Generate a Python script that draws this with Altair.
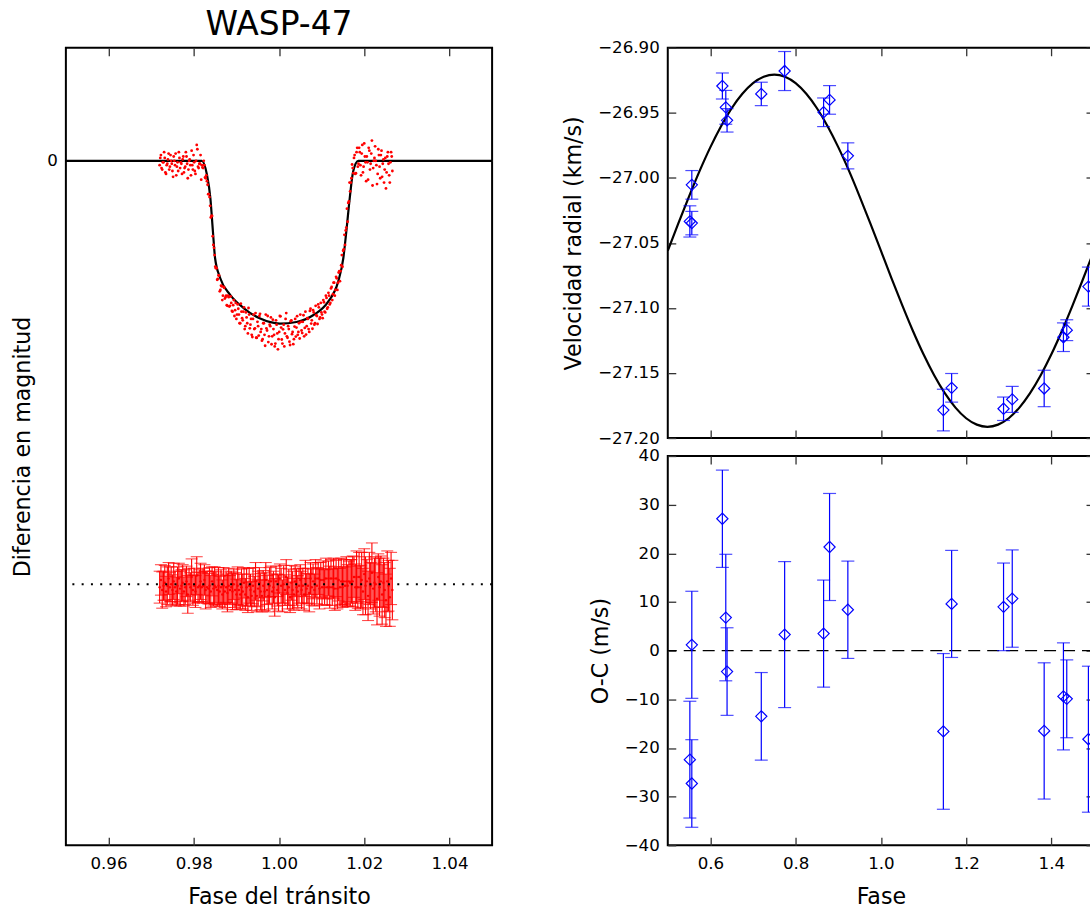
import altair as alt
import pandas as pd

FONT = "DejaVu Sans"
RED = "#ff0000"
BLUE = "#0000ff"
TICK = 8

# ---------------- transit light curve (left panel) ----------------
lc_phase = [
    0.9720, 0.9723, 0.9726, 0.9729, 0.9732, 0.9735, 0.9738, 0.9741, 0.9744, 0.9747,
    0.9750, 0.9753, 0.9756, 0.9759, 0.9762, 0.9765, 0.9768, 0.9771, 0.9774, 0.9777,
    0.9780, 0.9783, 0.9786, 0.9789, 0.9792, 0.9795, 0.9798, 0.9801, 0.9804, 0.9807,
    0.9810, 0.9813, 0.9816, 0.9819, 0.9822, 0.9825, 0.9828, 0.9831, 0.9834, 0.9837,
    0.9840, 0.9843, 0.9846, 0.9849, 0.9852, 0.9855, 0.9858, 0.9861, 0.9864, 0.9867,
    0.9870, 0.9873, 0.9876, 0.9879, 0.9882, 0.9885, 0.9888, 0.9891, 0.9894, 0.9897,
    0.9900, 0.9903, 0.9906, 0.9909, 0.9912, 0.9915, 0.9918, 0.9921, 0.9924, 0.9927,
    0.9930, 0.9933, 0.9936, 0.9939, 0.9942, 0.9945, 0.9948, 0.9951, 0.9954, 0.9957,
    0.9960, 0.9963, 0.9966, 0.9969, 0.9972, 0.9975, 0.9978, 0.9981, 0.9984, 0.9987,
    0.9990, 0.9993, 0.9996, 0.9999, 1.0002, 1.0005, 1.0008, 1.0011, 1.0014, 1.0017,
    1.0020, 1.0023, 1.0026, 1.0029, 1.0032, 1.0035, 1.0038, 1.0041, 1.0044, 1.0047,
    1.0050, 1.0053, 1.0056, 1.0059, 1.0062, 1.0065, 1.0068, 1.0071, 1.0074, 1.0077,
    1.0080, 1.0083, 1.0086, 1.0089, 1.0092, 1.0095, 1.0098, 1.0101, 1.0104, 1.0107,
    1.0110, 1.0113, 1.0116, 1.0119, 1.0122, 1.0125, 1.0128, 1.0131, 1.0134, 1.0137,
    1.0140, 1.0143, 1.0146, 1.0149, 1.0152, 1.0155, 1.0158, 1.0161, 1.0164, 1.0167,
    1.0170, 1.0173, 1.0176, 1.0179, 1.0182, 1.0185, 1.0188, 1.0191, 1.0194, 1.0197,
    1.0200, 1.0203, 1.0206, 1.0209, 1.0212, 1.0215, 1.0218, 1.0221, 1.0224, 1.0227,
    1.0230, 1.0233, 1.0236, 1.0239, 1.0242, 1.0245, 1.0248, 1.0251, 1.0254, 1.0257,
    1.0260, 1.0263, 1.0266,
]
# magnitude difference (mmag, positive = fainter)
lc_mag = [
    0.3, -0.4, 0.6, 0.1, -0.2, 0.9, 0.2, -0.5, 0.4, 0.0,
    0.7, -0.3, 0.3, 1.0, 0.1, -0.6, 0.5, 0.2, -0.1, 0.8,
    0.4, -0.3, 1.2, 0.0, 0.3, -0.7, 0.6, 0.1, 0.9, -1.1,
    0.4, 0.2, -0.4, 0.3, 0.5, 0.3, 1.2, 1.4, 2.3, 2.5,
    3.9, 3.8, 5.8, 6.5, 7.4, 8.2, 7.9, 9.0, 8.6, 9.6,
    8.7, 9.5, 9.3, 10.0, 9.4, 10.0, 9.8, 10.4, 9.6, 10.3,
    10.9, 9.9, 10.6, 11.2, 10.4, 11.0, 10.1, 11.4, 10.8, 11.9,
    10.6, 11.3, 12.0, 10.9, 11.6, 10.5, 12.2, 11.4, 10.7, 11.8,
    12.4, 11.2, 12.0, 10.6, 11.7, 12.5, 11.3, 10.8, 12.1, 11.6,
    12.8, 11.0, 11.9, 12.3, 10.7, 11.5, 12.6, 11.3, 11.9, 10.5,
    12.2, 11.6, 12.7, 11.0, 11.8, 12.3, 10.9, 11.5, 12.0, 11.2,
    10.6, 11.7, 11.1, 12.1, 10.4, 11.4, 10.9, 11.8, 10.2, 11.0,
    10.3, 11.3, 10.0, 10.7, 9.9, 10.9, 9.8, 10.6, 9.6, 10.4,
    9.3, 10.2, 9.1, 9.9, 8.8, 9.6, 8.4, 9.3, 8.0, 8.9,
    7.7, 8.3, 7.2, 7.3, 6.1, 5.8, 4.6, 4.2, 2.8, 2.1,
    1.2, 0.5, -0.2, 0.9, -0.6, 0.4, -0.9, 0.3, -0.5, 0.8,
    -1.2, 0.1, -0.3, 1.3, -0.7, 0.2, -1.4, 0.5, -0.2, 0.0,
    1.6, -0.8, 0.4, -0.4, 1.1, -0.1, 0.6, 1.9, -0.3, 0.2,
    1.5, -0.6, 0.7,
]
# second, interleaved set of photometric points
lc_phase2 = [
    0.97215, 0.97245, 0.97275, 0.97305, 0.97335, 0.97365, 0.97395, 0.97425, 0.97455, 0.97485,
    0.97515, 0.97545, 0.97575, 0.97605, 0.97635, 0.97665, 0.97695, 0.97725, 0.97755, 0.97785,
    0.97815, 0.97845, 0.97875, 0.97905, 0.97935, 0.97965, 0.97995, 0.98025, 0.98055, 0.98085,
    0.98115, 0.98145, 0.98175, 0.98205, 0.98235, 0.98265, 0.98295, 0.98325, 0.98355, 0.98385,
    0.98415, 0.98445, 0.98475, 0.98505, 0.98535, 0.98565, 0.98595, 0.98625, 0.98655, 0.98685,
    0.98715, 0.98745, 0.98775, 0.98805, 0.98835, 0.98865, 0.98895, 0.98925, 0.98955, 0.98985,
    0.99015, 0.99045, 0.99075, 0.99105, 0.99135, 0.99165, 0.99195, 0.99225, 0.99255, 0.99285,
    0.99315, 0.99345, 0.99375, 0.99405, 0.99435, 0.99465, 0.99495, 0.99525, 0.99555, 0.99585,
    0.99615, 0.99645, 0.99675, 0.99705, 0.99735, 0.99765, 0.99795, 0.99825, 0.99855, 0.99885,
    0.99915, 0.99945, 0.99975, 1.00005, 1.00035, 1.00065, 1.00095, 1.00125, 1.00155, 1.00185,
    1.00215, 1.00245, 1.00275, 1.00305, 1.00335, 1.00365, 1.00395, 1.00425, 1.00455, 1.00485,
    1.00515, 1.00545, 1.00575, 1.00605, 1.00635, 1.00665, 1.00695, 1.00725, 1.00755, 1.00785,
    1.00815, 1.00845, 1.00875, 1.00905, 1.00935, 1.00965, 1.00995, 1.01025, 1.01055, 1.01085,
    1.01115, 1.01145, 1.01175, 1.01205, 1.01235, 1.01265, 1.01295, 1.01325, 1.01355, 1.01385,
    1.01415, 1.01445, 1.01475, 1.01505, 1.01535, 1.01565, 1.01595, 1.01625, 1.01655, 1.01685,
    1.01715, 1.01745, 1.01775, 1.01805, 1.01835, 1.01865, 1.01895, 1.01925, 1.01955, 1.01985,
    1.02015, 1.02045, 1.02075, 1.02105, 1.02135, 1.02165, 1.02195, 1.02225, 1.02255, 1.02285,
    1.02315, 1.02345, 1.02375, 1.02405, 1.02435, 1.02465, 1.02495, 1.02525, 1.02555, 1.02585,
    1.02615, 1.02645,
]
lc_mag2 = [
    -0.2, 0.5, 0.1, -0.6, 0.8, 0.3, -0.1, 0.6, -0.4, 0.2,
    1.1, 0.0, -0.5, 0.4, 0.7, -0.2, 0.1, 0.9, -0.3, 0.5,
    -0.6, 0.2, 0.6, -0.1, 1.0, 0.3, -0.4, 0.7, 0.0, -0.8,
    0.5, 0.2, 1.3, 0.45, 0.0, 1.15, 1.0, 1.65, 2.3, 3.1,
    3.8, 5.2, 6.0, 7.3, 7.4, 8.15, 7.9, 8.9, 8.65, 9.3,
    8.75, 9.4, 9.95, 9.3, 10.05, 9.35, 10.35, 9.95, 10.7, 9.8,
    10.6, 10.2, 11.2, 9.85, 10.85, 10.4, 11.6, 10.45, 11.2, 10.15,
    11.55, 10.9, 12.15, 10.6, 11.55, 12.2, 11.1, 12.05, 10.55, 11.6,
    12.3, 11.2, 12.75, 11.55, 10.7, 12.1, 11.4, 12.65, 10.95, 12.0,
    12.6, 11.3, 13.0, 11.8, 10.72, 12.32, 11.62, 12.8, 10.9, 12.1,
    11.4, 12.47, 11.06, 11.95, 12.64, 11.43, 12.12, 10.71, 11.8, 12.25,
    11.1, 11.88, 10.65, 11.52, 11.98, 10.85, 11.6, 10.35, 11.22, 11.58,
    10.45, 11.2, 10.65, 11.25, 10.1, 10.8, 10.45, 10.85, 9.75, 10.45,
    9.45, 10.1, 9.3, 9.8, 8.7, 9.2, 8.4, 8.9, 8.1, 8.4,
    7.6, 7.6, 6.5, 6.2, 5.1, 4.8, 3.3, 2.9, 1.5, 1.5,
    0.25, 0.85, -0.4, 0.85, -0.9, 0.2, -0.6, 1.0, -1.1, 0.4,
    -0.3, 1.4, 0.1, -0.9, 0.6, -0.5, 1.7, 0.0, -1.0, 0.3,
    0.9, -0.4, 1.2, -0.7, 0.2, 1.5, -0.2, 0.8, -0.6, 1.0,
    0.1, -0.3,
]
# residuals (mmag) and their errors
lc_resid = [
    0.2, -0.3, 0.4, 0.1, -0.1, 0.5, 0.1, -0.4, 0.2, 0.0,
    0.4, -0.2, 0.2, 0.5, 0.1, -0.4, 0.3, 0.1, -0.1, 0.5,
    0.2, -0.2, 0.7, 0.0, 0.2, -0.5, 0.4, 0.1, 0.5, -0.6,
    0.2, 0.1, -0.2, 0.2, 0.1, -0.3, 0.4, 0.2, 0.3, 0.1,
    0.5, -0.2, 0.3, 0.1, 0.2, 0.4, 0.1, 0.5, 0.2, 0.7,
    0.1, 0.5, 0.2, 0.6, 0.1, 0.4, 0.2, 0.5, 0.0, 0.4,
    0.7, 0.1, 0.4, 0.7, 0.2, 0.5, -0.1, 0.7, 0.2, 0.9,
    0.1, 0.4, 0.8, 0.1, 0.5, -0.2, 0.8, 0.3, -0.1, 0.5,
    0.8, 0.1, 0.5, -0.3, 0.4, 0.8, 0.1, -0.2, 0.5, 0.2,
    0.9, -0.2, 0.4, 0.6, -0.4, 0.1, 0.8, 0.0, 0.4, -0.5,
    0.6, 0.2, 0.9, -0.1, 0.4, 0.7, -0.2, 0.2, 0.5, 0.1,
    -0.3, 0.4, 0.1, 0.7, -0.4, 0.3, 0.1, 0.6, -0.4, 0.2,
    -0.2, 0.4, -0.4, 0.1, -0.4, 0.3, -0.3, 0.2, -0.3, 0.2,
    -0.4, 0.2, -0.4, 0.2, -0.4, 0.2, -0.4, 0.3, -0.4, 0.3,
    -0.3, 0.2, -0.2, 0.2, -0.2, 0.1, -0.2, 0.1, -0.2, -0.1,
    -0.2, -0.2, -0.5, 0.2, -0.5, 0.2, -0.5, 0.2, -0.3, 0.5,
    -0.7, 0.1, -0.2, 0.8, -0.4, 0.1, -0.8, 0.3, -0.1, 0.0,
    1.0, -0.5, 0.2, -0.2, 0.7, -0.1, 0.4, 1.1, -0.2, 0.1,
    0.9, -0.4, 0.4,
]
lc_err = [
    1.1, 1.05, 1.25, 1.0, 1.2, 1.05, 1.3, 1.1, 1.0, 1.2,
    1.05, 1.25, 1.1, 1.0, 1.3, 1.05, 1.2, 1.1, 1.25, 1.0,
    1.2, 1.05, 1.3, 1.1, 1.0, 1.25, 1.05, 1.2, 1.1, 1.3,
    1.05, 1.1, 1.25, 1.0, 1.2, 1.05, 1.3, 1.1, 1.05, 1.25,
    1.1, 1.0, 1.2, 1.3, 1.05, 1.1, 1.25, 1.05, 1.2, 1.0,
    1.25, 1.1, 1.05, 1.3, 1.2, 1.0, 1.1, 1.25, 1.05, 1.2,
    1.05, 1.3, 1.1, 1.0, 1.25, 1.2, 1.05, 1.1, 1.3, 1.05,
    1.2, 1.1, 1.0, 1.25, 1.05, 1.3, 1.1, 1.2, 1.05, 1.25,
    1.1, 1.05, 1.3, 1.2, 1.0, 1.1, 1.25, 1.05, 1.2, 1.1,
    1.3, 1.05, 1.1, 1.25, 1.0, 1.2, 1.1, 1.3, 1.05, 1.2,
    1.1, 1.25, 1.05, 1.2, 1.3, 1.1, 1.05, 1.25, 1.1, 1.2,
    1.05, 1.3, 1.2, 1.1, 1.25, 1.05, 1.2, 1.3, 1.1, 1.25,
    1.2, 1.1, 1.3, 1.25, 1.1, 1.4, 1.2, 1.25, 1.3, 1.2,
    1.4, 1.25, 1.2, 1.45, 1.3, 1.25, 1.4, 1.5, 1.25, 1.4,
    1.45, 1.3, 1.6, 1.4, 1.5, 1.3, 1.7, 1.45, 1.4, 1.6,
    1.5, 1.75, 1.4, 1.6, 1.8, 1.45, 1.7, 1.5, 1.9, 1.6,
    1.75, 2.0, 1.5, 1.7, 1.8, 1.6, 2.05, 1.75, 1.7, 1.9,
    1.8, 1.6, 2.0, 1.75, 2.05, 1.7, 1.9, 1.8, 2.1, 1.75,
    2.0, 1.8, 2.05,
]
RESID_OFFSET = 29.2  # mmag shift of the residual series

model_phase = [0.950, 0.9819, 0.9831, 0.9839, 0.9845, 0.9850, 0.9862, 0.9885, 0.9917,
               0.9956, 1.0002, 1.0041, 1.0080, 1.0115, 1.0139, 1.0151, 1.0158, 1.0166,
               1.0174, 1.0186, 1.050]
model_mag = [0.0, 0.0, 0.96, 2.57, 4.87, 6.70, 8.08, 9.22, 10.15,
             10.88, 11.22, 11.11, 10.65, 9.73, 8.31, 6.70, 4.87, 2.57,
             0.74, 0.0, 0.0]

lc_xticks = [0.96, 0.98, 1.00, 1.02, 1.04]
lc_yticks = [0]

# ---------------- radial velocities (right panels) ----------------
rv_phase = [0.5518, 0.5564, 0.5564, 0.6281, 0.6361, 0.6391, 0.7194, 0.7742, 0.8656, 0.8796,
            0.9225, 1.1466, 1.1660, 1.2878, 1.3082, 1.3831, 1.4283, 1.4361, 1.4869]
rv_kms = [-27.0335, -27.0348, -27.0054, -26.9294, -26.9458, -26.9558, -26.9355, -26.9179,
          -26.9496, -26.9401, -26.9831, -27.1785, -27.1614, -27.1775, -27.1703, -27.1619,
          -27.1225, -27.1171, -27.0836]
oc_ms = [-22.4, -27.3, 1.2, 27.1, 6.8, -4.3, -13.5, 3.3, 3.5, 21.3,
         8.4, -16.6, 9.6, 9.0, 10.7, -16.5, -9.4, -9.9, -18.2]
err_ms = [12, 9, 11, 10, 13, 9, 9, 15, 11, 11, 10, 16, 11, 9, 10, 14, 11, 8, 15]

rvm_phase = [0.500, 0.525, 0.550, 0.575, 0.600, 0.625, 0.650, 0.675, 0.700, 0.725,
             0.750, 0.775, 0.800, 0.825, 0.850, 0.875, 0.900, 0.925, 0.950, 0.975,
             1.000, 1.025, 1.050, 1.075, 1.100, 1.125, 1.150, 1.175, 1.200, 1.225,
             1.250, 1.275, 1.300, 1.325, 1.350, 1.375, 1.400, 1.425, 1.450, 1.475, 1.500]
rvm_kms = [-27.0560, -27.0348, -27.0142, -26.9945, -26.9764, -26.9603, -26.9465, -26.9354,
           -26.9272, -26.9223, -26.9206, -26.9223, -26.9272, -26.9354, -26.9465, -26.9603,
           -26.9764, -26.9945, -27.0142, -27.0348, -27.0560, -27.0772, -27.0978, -27.1175,
           -27.1356, -27.1517, -27.1655, -27.1766, -27.1848, -27.1897, -27.1914, -27.1897,
           -27.1848, -27.1766, -27.1655, -27.1517, -27.1356, -27.1175, -27.0978, -27.0772,
           -27.0560]

rv_xticks = [0.6, 0.8, 1.0, 1.2, 1.4]
rv_yticks = [-27.20, -27.15, -27.10, -27.05, -27.00, -26.95, -26.90]
oc_yticks = [-40, -30, -20, -10, 0, 10, 20, 30, 40]


def ax(orient, values, title=None, labels=True, fmt=None, label_pad=10, title_pad=12):
    kw = dict(orient=orient, values=values, title=title, labels=labels,
              tickSize=TICK, offset=-TICK, domain=False, grid=False,
              labelFlush=False, labelOverlap=False,
              tickColor="#333333", tickWidth=1.3,
              labelPadding=label_pad, titlePadding=title_pad,
              labelFont=FONT, labelFontSize=16.7, labelColor="black",
              titleFont=FONT, titleFontSize=22.2, titleFontWeight="normal",
              titleColor="black")
    if fmt:
        kw["format"] = fmt
    return alt.Axis(**kw)


# ---------------- left panel ----------------
lc_df = pd.DataFrame({"phase": lc_phase, "mag": lc_mag, "res": lc_resid, "err": lc_err})
pts_df = pd.DataFrame({"phase": lc_phase + lc_phase2, "mag": lc_mag + lc_mag2})
model_df = pd.DataFrame({"phase": model_phase, "mag": model_mag})
off_df = pd.DataFrame({"y": [RESID_OFFSET]})

lx = alt.Scale(domain=[0.95, 1.05], nice=False, zero=False)
ly = alt.Scale(domain=[-7.8, 47.2], reverse=True, nice=False, zero=False)

res_base = alt.Chart(lc_df).transform_calculate(
    yc=f"datum.res + {RESID_OFFSET}",
    lo=f"datum.res + {RESID_OFFSET} - datum.err",
    hi=f"datum.res + {RESID_OFFSET} + datum.err",
)
x_lc_none = alt.X("phase:Q", scale=lx, axis=None)

res_bars = res_base.mark_rule(color=RED, strokeWidth=1.1).encode(
    x=alt.X("phase:Q", scale=lx, axis=ax("top", lc_xticks, labels=False)),
    y=alt.Y("lo:Q", scale=ly, axis=ax("right", lc_yticks, labels=False)),
    y2="hi:Q",
)
res_cap_lo = res_base.mark_tick(color=RED, orient="horizontal", size=12, thickness=1.1).encode(
    x=x_lc_none, y=alt.Y("lo:Q", scale=ly, axis=None))
res_cap_hi = res_base.mark_tick(color=RED, orient="horizontal", size=12, thickness=1.1).encode(
    x=x_lc_none, y=alt.Y("hi:Q", scale=ly, axis=None))
res_dots = res_base.mark_circle(color=RED, size=6, opacity=1).encode(
    x=x_lc_none, y=alt.Y("yc:Q", scale=ly, axis=None))
dotted = alt.Chart(off_df).mark_rule(color="black", strokeWidth=2, strokeDash=[2, 7.3]).encode(
    y=alt.Y("y:Q", scale=ly, axis=None))
model_line = alt.Chart(model_df).mark_line(color="black", strokeWidth=2.2, interpolate="monotone",
                                           clip=True).encode(
    x=alt.X("phase:Q", scale=lx, axis=ax("bottom", lc_xticks, "Fase del tránsito", fmt=".2f",
                                          title_pad=14)),
    y=alt.Y("mag:Q", scale=ly, axis=ax("left", lc_yticks, "Diferencia en magnitud", label_pad=8.5)),
)
lc_pts = alt.Chart(pts_df).mark_circle(color=RED, size=8, opacity=1).encode(
    x=x_lc_none, y=alt.Y("mag:Q", scale=ly, axis=None))

left = alt.layer(res_bars, res_cap_lo, res_cap_hi, res_dots, dotted, model_line, lc_pts).resolve_axis(
    x="independent", y="independent"
).properties(
    width=427, height=799,
    title=alt.Title("WASP-47", font=FONT, fontSize=33, fontWeight="normal", color="black",
                    anchor="middle", frame="group", offset=5.5),
)

# ---------------- right top: RV ----------------
rv_df = pd.DataFrame({"phase": rv_phase, "rv": rv_kms, "oc": oc_ms, "err": err_ms})
rvm_df = pd.DataFrame({"phase": rvm_phase, "rv": rvm_kms})

rx = alt.Scale(domain=[0.5, 1.5], nice=False, zero=False)
ry = alt.Scale(domain=[-27.2, -26.9], nice=False, zero=False)
x_r_none = alt.X("phase:Q", scale=rx, axis=None)

rv_base = alt.Chart(rv_df).transform_calculate(
    lo="datum.rv - datum.err / 1000", hi="datum.rv + datum.err / 1000")

rv_line = alt.Chart(rvm_df).mark_line(color="black", strokeWidth=2.2, interpolate="monotone",
                                      clip=True).encode(
    x=alt.X("phase:Q", scale=rx, axis=ax("bottom", rv_xticks, labels=False)),
    y=alt.Y("rv:Q", scale=ry, axis=ax("left", rv_yticks, "Velocidad radial (km/s)", fmt=".2f",
                                      label_pad=8.5)),
)
rv_bars = rv_base.mark_rule(color=BLUE, strokeWidth=1.2).encode(
    x=alt.X("phase:Q", scale=rx, axis=ax("top", rv_xticks, labels=False)),
    y=alt.Y("lo:Q", scale=ry, axis=ax("right", rv_yticks, labels=False)),
    y2="hi:Q",
)
rv_cap_lo = rv_base.mark_tick(color=BLUE, orient="horizontal", size=13, thickness=1.2).encode(
    x=x_r_none, y=alt.Y("lo:Q", scale=ry, axis=None))
rv_cap_hi = rv_base.mark_tick(color=BLUE, orient="horizontal", size=13, thickness=1.2).encode(
    x=x_r_none, y=alt.Y("hi:Q", scale=ry, axis=None))
rv_pts = rv_base.mark_point(shape="diamond", size=125, filled=False, color=BLUE, strokeWidth=1.2,
                            opacity=1).encode(x=x_r_none, y=alt.Y("rv:Q", scale=ry, axis=None))

rv_chart = alt.layer(rv_line, rv_bars, rv_cap_lo, rv_cap_hi, rv_pts).resolve_axis(
    x="independent", y="independent").properties(width=427, height=391)

# ---------------- right bottom: O-C ----------------
oy = alt.Scale(domain=[-40, 40], nice=False, zero=False)
zero_df = pd.DataFrame({"y": [0]})

oc_base = alt.Chart(rv_df).transform_calculate(lo="datum.oc - datum.err", hi="datum.oc + datum.err")
zero_line = alt.Chart(zero_df).mark_rule(color="black", strokeWidth=1.2, strokeDash=[12, 7]).encode(
    y=alt.Y("y:Q", scale=oy, axis=None))
oc_bars = oc_base.mark_rule(color=BLUE, strokeWidth=1.2).encode(
    x=alt.X("phase:Q", scale=rx, axis=ax("top", rv_xticks, labels=False)),
    y=alt.Y("lo:Q", scale=oy, axis=ax("right", oc_yticks, labels=False)),
    y2="hi:Q",
)
oc_cap_lo = oc_base.mark_tick(color=BLUE, orient="horizontal", size=13, thickness=1.2).encode(
    x=x_r_none, y=alt.Y("lo:Q", scale=oy, axis=None))
oc_cap_hi = oc_base.mark_tick(color=BLUE, orient="horizontal", size=13, thickness=1.2).encode(
    x=x_r_none, y=alt.Y("hi:Q", scale=oy, axis=None))
oc_pts = oc_base.mark_point(shape="diamond", size=125, filled=False, color=BLUE, strokeWidth=1.2,
                            opacity=1).encode(
    x=alt.X("phase:Q", scale=rx, axis=ax("bottom", rv_xticks, "Fase", fmt=".1f", title_pad=14)),
    y=alt.Y("oc:Q", scale=oy, axis=ax("left", oc_yticks, "O-C (m/s)", fmt="d", label_pad=8.5)),
)

oc_chart = alt.layer(zero_line, oc_bars, oc_cap_lo, oc_cap_hi, oc_pts).resolve_axis(
    x="independent", y="independent").properties(width=427, height=390)

right = alt.vconcat(rv_chart, oc_chart, spacing=18, bounds="flush")

chart = alt.hconcat(left, right, spacing=176, bounds="flush").properties(
    padding={"left": 10, "top": 6, "right": -8, "bottom": 0},
    background="white",
).configure_view(stroke="black", strokeWidth=2).configure_axis(
    labelFont=FONT, labelFontSize=16.7, titleFont=FONT, titleFontSize=22.2
)

chart.save("out.html", embed_options={"renderer": "svg", "actions": False})
